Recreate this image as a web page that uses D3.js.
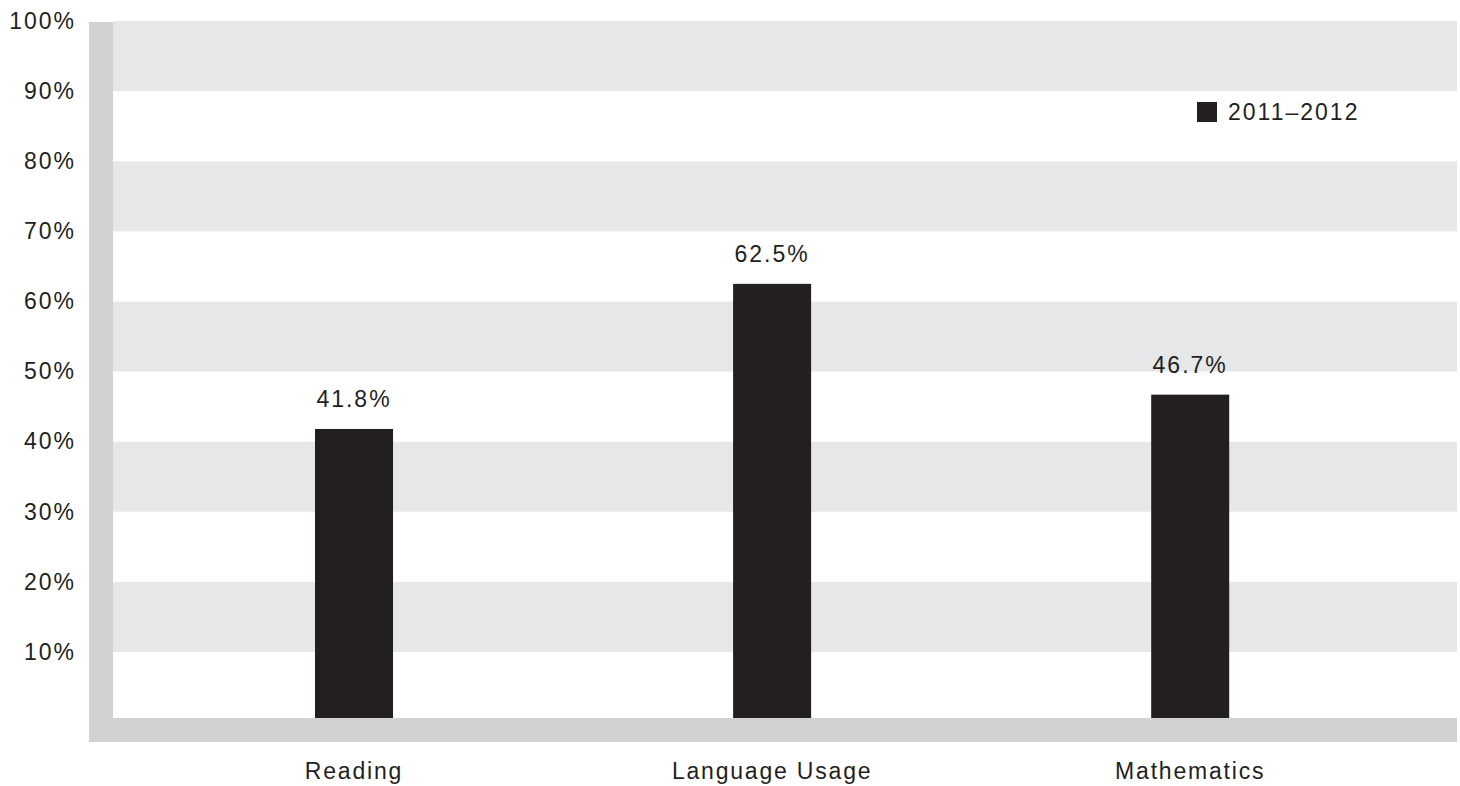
<!DOCTYPE html>
<html>
<head>
<meta charset="utf-8">
<script src="https://cdn.jsdelivr.net/npm/d3@7"></script>
<style>
  body { margin: 0; background: #fff; }
  text { font-family: "Liberation Sans", Arial, sans-serif; fill: #231f20; }
</style>
</head>
<body>
<div id="chart"></div>
<script>
const categories = ["Reading", "Language Usage", "Mathematics"];
const values2011 = [41.8, 62.5, 46.7];
const tickValues = [10, 20, 30, 40, 50, 60, 70, 80, 90, 100];
const seriesName = "2011\u20132012";

const width = 1460, height = 786;
const plot = { left: 113, right: 1457, top: 21, bottom: 718 };

const svg = d3.select("#chart").append("svg")
  .attr("width", width)
  .attr("height", height);

// y scale: 0..100 percent
const y = d3.scaleLinear().domain([0, 100]).range([722, 21]);

// x scale for the three subjects
const x = d3.scaleBand()
  .domain(categories)
  .range([plot.left, plot.right])
  .paddingInner(0.8134)
  .paddingOuter(0.514)
  .align(0.47);

// alternating background stripes
const stripes = d3.range(0, 100, 10);
svg.append("g").selectAll("rect")
  .data(stripes)
  .enter()
  .append("rect")
  .attr("x", plot.left)
  .attr("width", plot.right - plot.left)
  .attr("y", (d) => y(d + 10))
  .attr("height", (d) => y(d) - y(d + 10))
  .style("fill", (d) => ((d / 10) % 2 === 1 ? "#e6e7e8" : "#ffffff"));

// bars
svg.append("g").selectAll("rect")
  .data(values2011)
  .enter()
  .append("rect")
  .attr("x", (d, i) => x(categories[i]))
  .attr("width", x.bandwidth())
  .attr("y", (d) => y(d))
  .attr("height", (d) => plot.bottom - y(d))
  .style("fill", "#231f20");

// gray frame on the left and bottom
svg.append("rect")
  .attr("x", 89).attr("y", 22)
  .attr("width", plot.left - 89).attr("height", 742 - 22)
  .style("fill", "#d1d2d4");
svg.append("rect")
  .attr("x", 89).attr("y", plot.bottom)
  .attr("width", plot.right - 89).attr("height", 742 - plot.bottom)
  .style("fill", "#d1d2d4");

// value labels
svg.append("g").selectAll("text")
  .data(values2011)
  .enter()
  .append("text")
  .attr("x", (d, i) => x(categories[i]) + x.bandwidth() / 2)
  .attr("y", (d) => y(d) - 22)
  .attr("text-anchor", "middle")
  .style("font-size", "23px")
  .style("letter-spacing", "2px")
  .text((d) => d.toFixed(1) + "%");

// y axis labels
const yAxis = svg.append("g")
  .attr("transform", "translate(76,0)")
  .call(d3.axisLeft(y).tickValues(tickValues).tickSize(0).tickFormat((d) => d + "%"));
yAxis.select(".domain").remove();
yAxis.selectAll("text")
  .attr("x", 0)
  .style("font-size", "23px")
  .style("letter-spacing", "2px")
  .style("fill", "#231f20");

// x axis labels
const xAxis = svg.append("g")
  .attr("transform", "translate(0,752)")
  .call(d3.axisBottom(x).tickSize(0));
xAxis.select(".domain").remove();
xAxis.selectAll("text")
  .attr("y", 27)
  .attr("dy", 0)
  .style("font-size", "23px")
  .style("letter-spacing", "1.8px")
  .style("fill", "#231f20");

// legend
const legend = svg.append("g").attr("transform", "translate(1197,102)");
legend.append("rect")
  .attr("width", 20).attr("height", 20)
  .style("fill", "#231f20");
legend.append("text")
  .attr("x", 31).attr("y", 18)
  .style("font-size", "23px")
  .style("letter-spacing", "2px")
  .text(seriesName);
</script>
</body>
</html>
